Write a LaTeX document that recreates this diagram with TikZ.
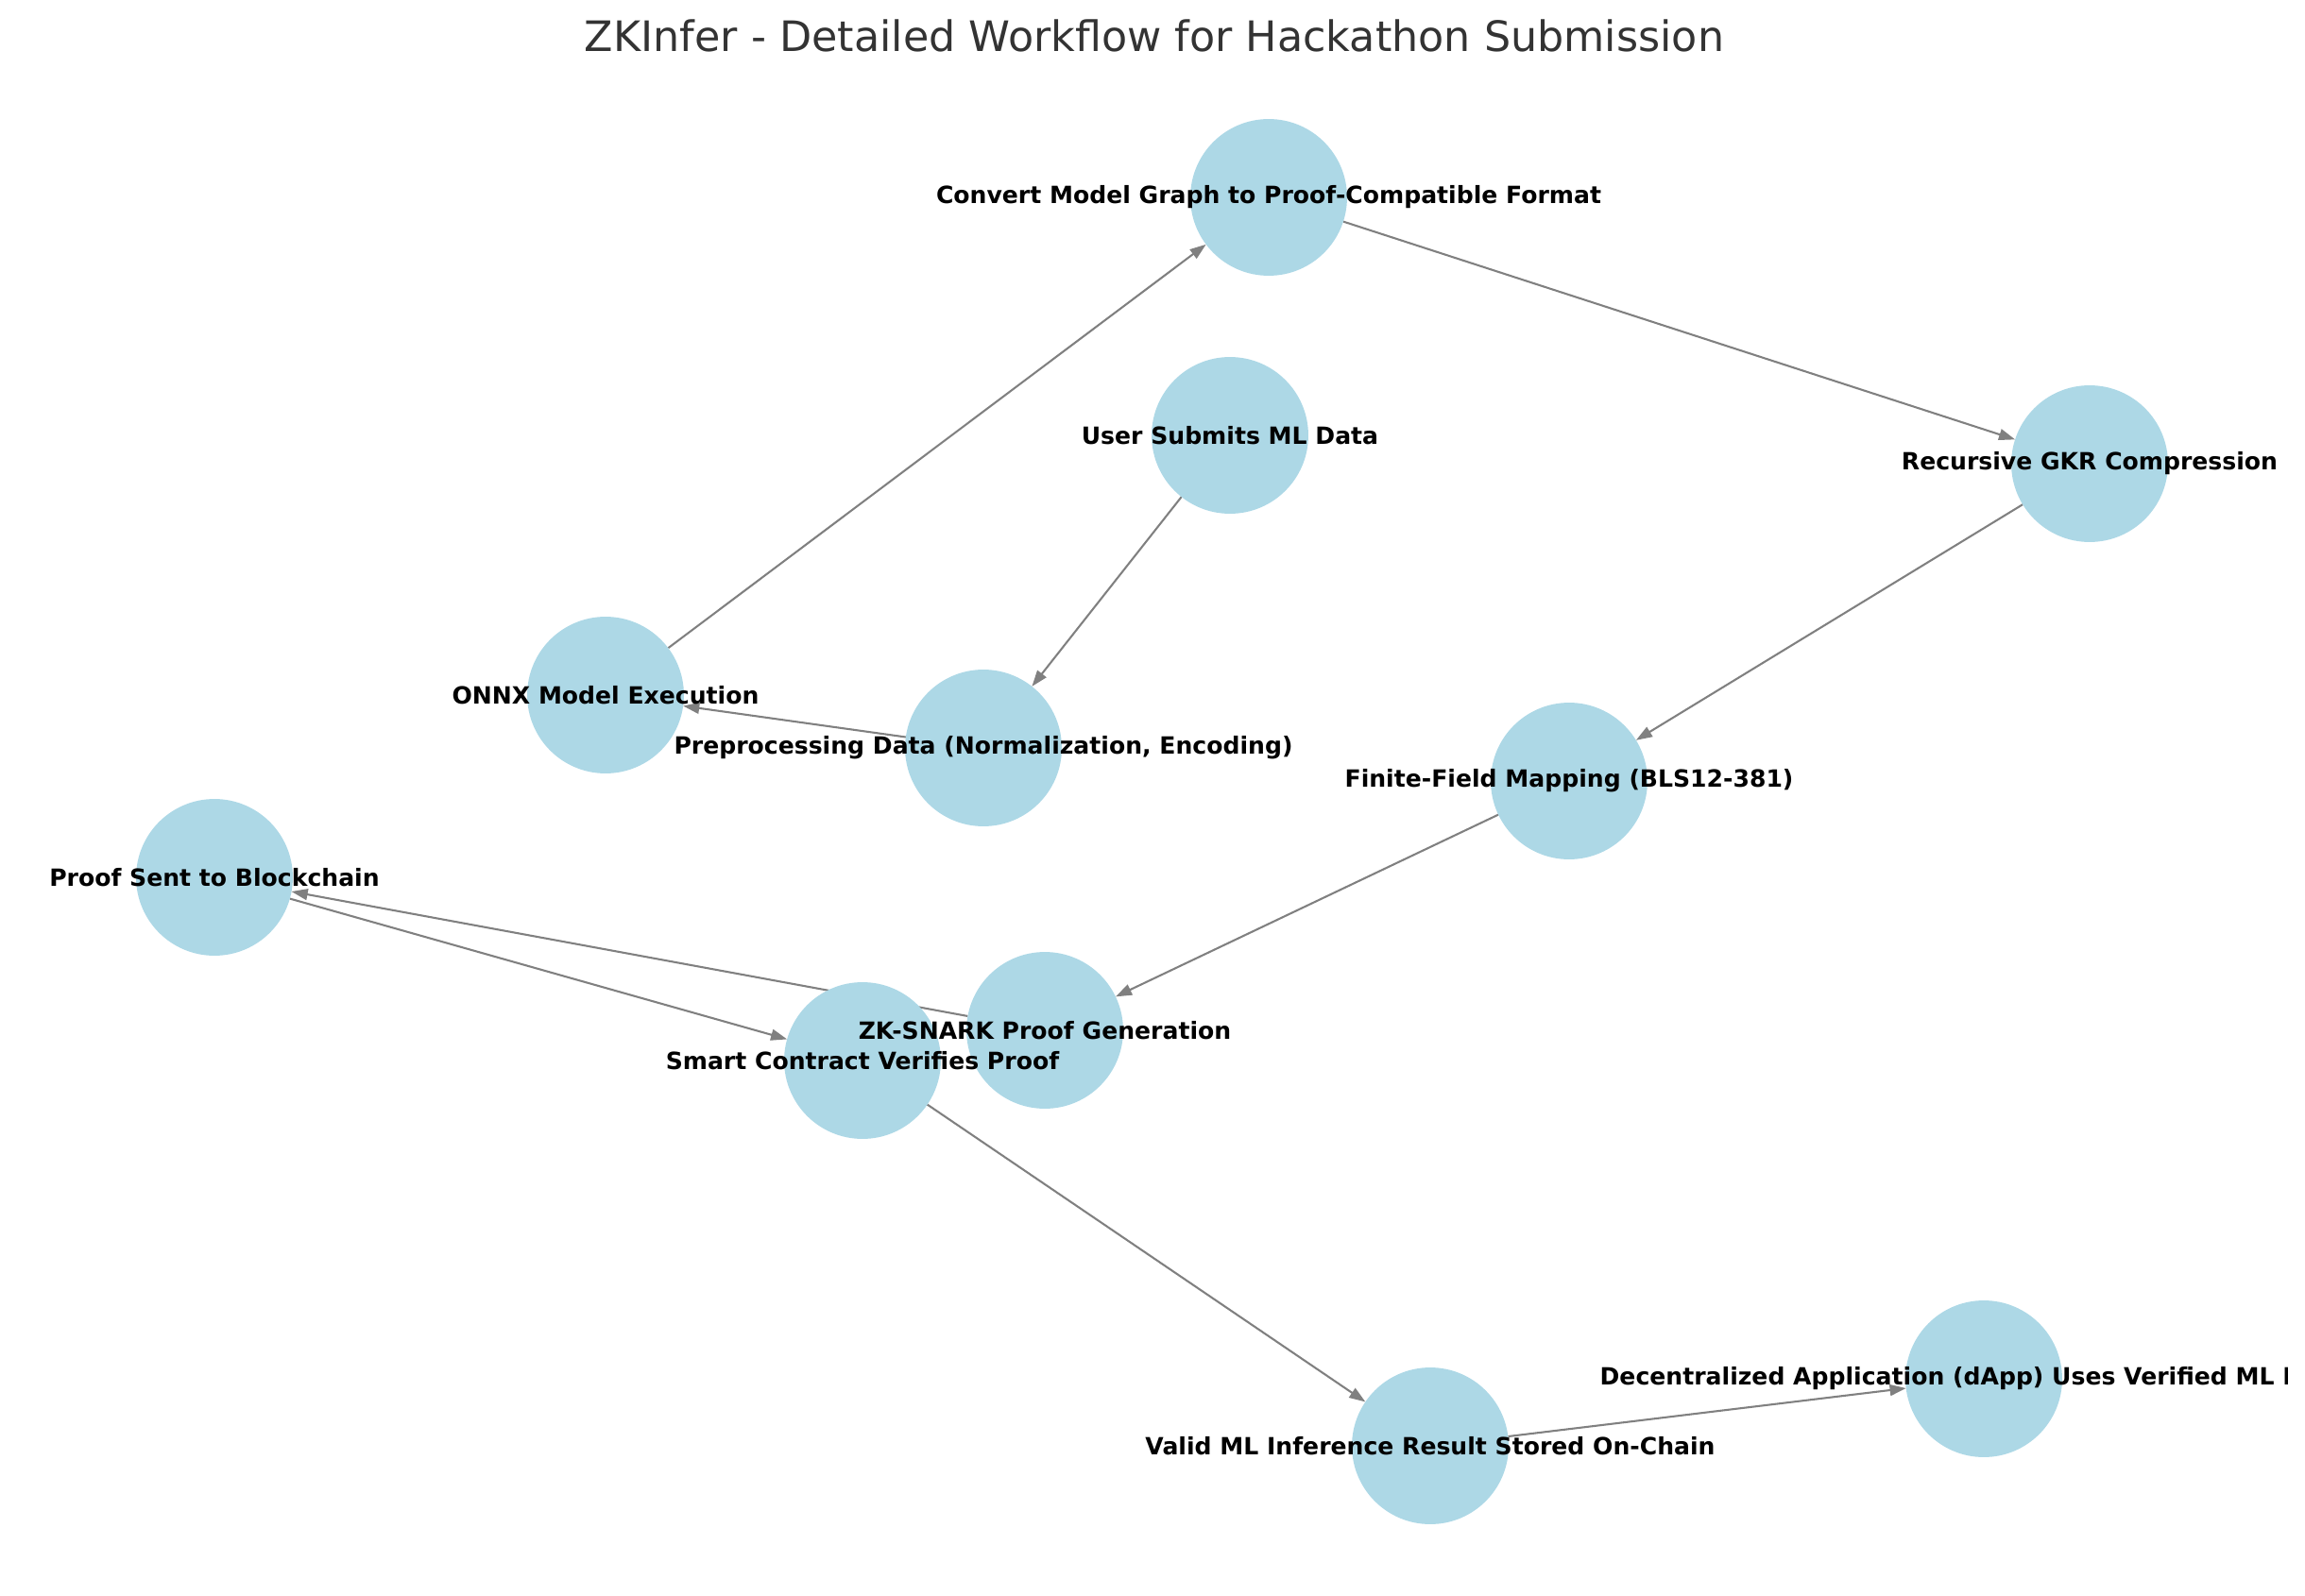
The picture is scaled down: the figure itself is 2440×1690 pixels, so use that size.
\documentclass[tikz,border=0pt]{standalone}
\usepackage{fontspec}
\setmainfont{DejaVu Sans}
\usetikzlibrary{arrows.meta}

\definecolor{bubble}{HTML}{ADD8E6}
\definecolor{wire}{HTML}{808080}
\definecolor{heading}{HTML}{333333}

\pgfdeclarelayer{wires}
\pgfdeclarelayer{discs}
\pgfsetlayers{wires,discs,main}

\begin{document}
\begin{tikzpicture}[
                x = 0.01693cm, y = -0.01693cm,
                > = {Triangle[length=2.9mm, width=2mm]},
                stage/.style={ circle, minimum size = 2.81cm, inner sep = 0pt, outer sep = 0pt },
                tag/.style={ font = \fontsize{12.1}{14}\selectfont\bfseries },
                link/.style={ ->, draw = wire, line width = 1pt }
            ]
            \useasboundingbox (0, 0) rectangle (2440, 1690);

            \node (title) [text = heading, font = \fontsize{21.4}{26}\selectfont] at (1222, 38) {ZKInfer - Detailed Workflow for Hackathon Submission};

            % labels are cut at the plot frame on the right
            \begin{scope}
                \clip (0, 0) rectangle (2421, 1690);
                \node (user)    [stage, label={[tag]center:{User Submits ML Data}}]                         at (1302, 461)  {};
                \node (prep)    [stage, label={[tag]center:{Preprocessing Data (Normalization, Encoding)}}] at (1041, 792)  {};
                \node (onnx)    [stage, label={[tag]center:{ONNX Model Execution}}]                         at (641, 736)   {};
                \node (convert) [stage, label={[tag]center:{Convert Model Graph to Proof-Compatible Format}}] at (1343, 209) {};
                \node (gkr)     [stage, label={[tag]center:{Recursive GKR Compression}}]                    at (2212, 491)  {};
                \node (field)   [stage, label={[tag]center:{Finite-Field Mapping (BLS12-381)}}]             at (1661, 827)  {};
                \node (snark)   [stage, label={[tag]center:{ZK-SNARK Proof Generation}}]                    at (1106, 1091) {};
                \node (sent)    [stage, label={[tag]center:{Proof Sent to Blockchain}}]                     at (227, 929)   {};
                \node (verify)  [stage, label={[tag]center:{Smart Contract Verifies Proof}}]                at (913, 1123)  {};
                \node (stored)  [stage, label={[tag]center:{Valid ML Inference Result Stored On-Chain}}]    at (1514, 1531) {};
                \node (dapp)    [stage, label={[tag]center:{Decentralized Application (dApp) Uses Verified ML Inputs}}] at (2100, 1460) {};
            \end{scope}

            \begin{pgfonlayer}{discs}
                \foreach \n in {user, prep, onnx, convert, gkr, field, snark, sent, verify, stored, dapp}
                    \fill [bubble] (\n) circle [radius = 1.405cm];
            \end{pgfonlayer}

            \begin{pgfonlayer}{wires}
                \draw [link] (user)    -- (prep);
                \draw [link] (prep)    -- (onnx);
                \draw [link] (onnx)    -- (convert);
                \draw [link] (convert) -- (gkr);
                \draw [link] (gkr)     -- (field);
                \draw [link] (field)   -- (snark);
                \draw [link] (snark)   -- (sent);
                \draw [link] (sent)    -- (verify);
                \draw [link] (verify)  -- (stored);
                \draw [link] (stored)  -- (dapp);
            \end{pgfonlayer}
        \end{tikzpicture}
\end{document}
